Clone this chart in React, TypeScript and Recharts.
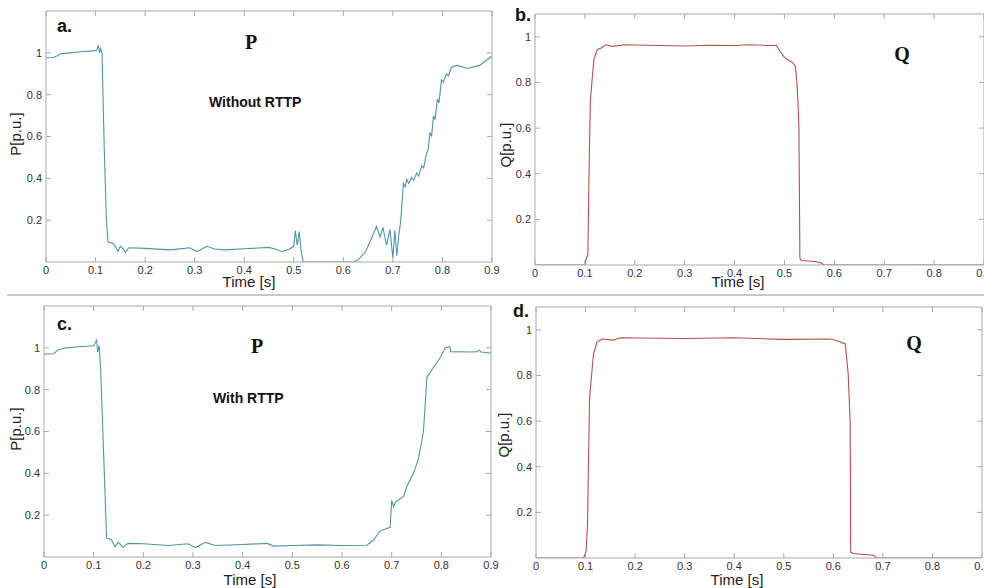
import React from "react";
import { LineChart, Line, XAxis, YAxis } from "recharts";

// shared ticks
const timeTicks = [0, 0.1, 0.2, 0.3, 0.4, 0.5, 0.6, 0.7, 0.8, 0.9];
const valueTicks = [0.2, 0.4, 0.6, 0.8, 1];

// a. P without RTTP
const pWithoutTime = [
  0, 0.015, 0.022, 0.03, 0.05, 0.07, 0.09, 0.102, 0.106, 0.108, 0.11, 0.113, 0.118, 0.122, 0.125,
  0.135, 0.14, 0.145, 0.15, 0.155, 0.16, 0.167, 0.2, 0.25, 0.28, 0.29, 0.305, 0.325, 0.34, 0.36,
  0.4, 0.45, 0.462, 0.475, 0.49, 0.5, 0.503, 0.507, 0.511, 0.515, 0.519, 0.62, 0.63, 0.645, 0.66,
  0.667, 0.674, 0.68, 0.687, 0.694, 0.7, 0.704, 0.708, 0.712, 0.716, 0.721, 0.725, 0.728, 0.732,
  0.738, 0.742, 0.748, 0.752, 0.758, 0.762, 0.768, 0.771, 0.775, 0.778, 0.782, 0.785, 0.79, 0.793,
  0.798, 0.802, 0.808, 0.812, 0.818, 0.822, 0.83, 0.85, 0.875, 0.9,
];
const pWithoutValue = [
  0.975, 0.978, 0.985, 0.995, 1.0, 1.005, 1.008, 1.012, 1.037, 1.0, 1.02, 1.0, 0.5, 0.2, 0.095,
  0.09, 0.075, 0.05, 0.075, 0.065, 0.045, 0.068, 0.065, 0.058, 0.065, 0.068, 0.05, 0.075, 0.062, 0.058,
  0.063, 0.07, 0.062, 0.05, 0.06, 0.075, 0.15, 0.08, 0.145, 0.05, 0.0, 0.0, 0.01, 0.05, 0.13,
  0.17, 0.12, 0.165, 0.08, 0.155, 0.02, 0.15, 0.03, 0.13, 0.2, 0.376, 0.36, 0.395, 0.375,
  0.405, 0.39, 0.425, 0.41, 0.46, 0.45, 0.52, 0.535, 0.62, 0.6, 0.7, 0.68, 0.78, 0.76,
  0.87, 0.86, 0.9, 0.89, 0.93, 0.935, 0.94, 0.925, 0.94, 0.985,
];

// b. Q without RTTP
const qWithoutTime = [
  0, 0.1, 0.102, 0.106, 0.109, 0.111, 0.114, 0.118, 0.125, 0.132, 0.142, 0.155, 0.18, 0.25, 0.3,
  0.35, 0.4, 0.43, 0.47, 0.484, 0.49, 0.5, 0.51, 0.517, 0.522, 0.525, 0.527, 0.529, 0.531, 0.534,
  0.56, 0.573, 0.579, 0.9,
];
const qWithoutValue = [
  0, 0, 0.02, 0.05, 0.5, 0.72, 0.8, 0.9, 0.945, 0.95, 0.965, 0.958, 0.965, 0.962, 0.96,
  0.963, 0.962, 0.965, 0.962, 0.962, 0.94, 0.91, 0.895, 0.886, 0.87, 0.8, 0.72, 0.6, 0.03, 0.02,
  0.015, 0.01, 0, 0,
];

// c. P with RTTP
const pWithTime = [
  0, 0.02, 0.028, 0.045, 0.07, 0.1, 0.106, 0.108, 0.111, 0.114, 0.12, 0.126, 0.135, 0.143, 0.149,
  0.154, 0.159, 0.169, 0.2, 0.25, 0.29, 0.305, 0.325, 0.345, 0.4, 0.45, 0.462, 0.5, 0.55, 0.6,
  0.65, 0.663, 0.677, 0.697, 0.7, 0.704, 0.707, 0.712, 0.724, 0.731, 0.744, 0.754, 0.764, 0.771,
  0.781, 0.798, 0.808, 0.817, 0.819, 0.86, 0.872, 0.876, 0.88, 0.9,
];
const pWithValue = [
  0.97, 0.972, 0.99, 1.0, 1.005, 1.01, 1.037, 0.98, 1.01, 0.9, 0.5, 0.09, 0.085, 0.049, 0.07,
  0.06, 0.045, 0.065, 0.063, 0.055, 0.063, 0.045, 0.07, 0.055, 0.06, 0.065, 0.052, 0.055, 0.058, 0.055,
  0.056, 0.08, 0.125, 0.142, 0.27, 0.24, 0.26, 0.27, 0.29, 0.34, 0.4, 0.47, 0.6, 0.86,
  0.895, 0.955, 1.0, 1.005, 0.982, 0.98, 0.982, 0.99, 0.98, 0.975,
];

// d. Q with RTTP
const qWithTime = [
  0, 0.096, 0.101, 0.104, 0.108, 0.116, 0.123, 0.133, 0.156, 0.17, 0.25, 0.3, 0.4, 0.5, 0.593,
  0.607, 0.624, 0.63, 0.632, 0.634, 0.635, 0.64, 0.681, 0.688, 0.9,
];
const qWithValue = [
  0, 0, 0.03, 0.15, 0.7, 0.894, 0.946, 0.96, 0.955, 0.965, 0.963, 0.962, 0.965, 0.958, 0.96,
  0.953, 0.938, 0.807, 0.7, 0.588, 0.026, 0.02, 0.012, 0, 0,
];

const toRows = (time: number[], value: number[]) => time.map((t, i) => ({ t, v: value[i] }));

const sans = "'Liberation Sans', Arial, sans-serif";
const serif = "'Liberation Serif', 'Times New Roman', serif";
const frame = "#a9a9a9";
const tickText = "#333";
const pColor = "#4f95aa";
const qColor = "#b5504d";

interface PanelProps {
  left: number;
  top: number;
  width: number;
  height: number;
  axisLeft: number;
  axisRight: number;
  axisTop: number;
  axisBottom: number;
  yMax: number;
  color: string;
  data: { t: number; v: number }[];
}

function Panel(props: PanelProps) {
  const blank = () => "";
  return (
    <div style={{ position: "absolute", left: props.left, top: props.top }}>
      <LineChart
        width={props.width}
        height={props.height}
        data={props.data}
        margin={{ top: 0, right: 0, bottom: 0, left: 0 }}
      >
        <XAxis
          xAxisId="bottom"
          dataKey="t"
          type="number"
          domain={[0, 0.9]}
          ticks={timeTicks}
          interval={0}
          allowDataOverflow
          height={props.axisBottom}
          tickSize={-5}
          tickMargin={9}
          tick={{ fontSize: 11, fill: tickText, fontFamily: sans }}
          axisLine={{ stroke: frame }}
          tickLine={{ stroke: frame }}
        />
        <XAxis
          xAxisId="top"
          orientation="top"
          dataKey="t"
          type="number"
          domain={[0, 0.9]}
          ticks={timeTicks}
          interval={0}
          allowDataOverflow
          height={props.axisTop}
          tickSize={-5}
          tickFormatter={blank}
          axisLine={{ stroke: frame }}
          tickLine={{ stroke: frame }}
        />
        <YAxis
          yAxisId="left"
          type="number"
          domain={[0, props.yMax]}
          ticks={valueTicks}
          interval={0}
          allowDataOverflow
          width={props.axisLeft}
          tickSize={-5}
          tickMargin={9}
          tick={{ fontSize: 11, fill: tickText, fontFamily: sans }}
          axisLine={{ stroke: frame }}
          tickLine={{ stroke: frame }}
        />
        <YAxis
          yAxisId="right"
          orientation="right"
          type="number"
          domain={[0, props.yMax]}
          ticks={valueTicks}
          interval={0}
          allowDataOverflow
          width={props.axisRight}
          tickSize={-5}
          tickFormatter={blank}
          axisLine={{ stroke: frame }}
          tickLine={{ stroke: frame }}
        />
        <Line
          xAxisId="bottom"
          yAxisId="left"
          dataKey="v"
          type="linear"
          stroke={props.color}
          strokeWidth={1.1}
          dot={false}
          isAnimationActive={false}
        />
      </LineChart>
    </div>
  );
}

export default function App() {
  return (
    <div
      style={{
        position: "absolute",
        left: 0,
        top: 0,
        width: 984,
        height: 588,
        overflow: "hidden",
        background: "#fff",
      }}
    >
      <Panel left={0} top={0} width={500} height={295} axisLeft={46} axisRight={8} axisTop={11} axisBottom={33}
        yMax={1.2} color={pColor} data={toRows(pWithoutTime, pWithoutValue)} />
      <Panel left={500} top={0} width={490} height={295} axisLeft={35} axisRight={6} axisTop={14} axisBottom={30}
        yMax={1.1} color={qColor} data={toRows(qWithoutTime, qWithoutValue)} />
      <Panel left={0} top={295} width={500} height={293} axisLeft={44} axisRight={9} axisTop={11} axisBottom={31}
        yMax={1.2} color={pColor} data={toRows(pWithTime, pWithValue)} />
      <Panel left={500} top={295} width={490} height={293} axisLeft={36} axisRight={8} axisTop={12} axisBottom={30}
        yMax={1.1} color={qColor} data={toRows(qWithTime, qWithValue)} />

      <svg width={984} height={588} style={{ position: "absolute", left: 0, top: 0, pointerEvents: "none" }}>
        <line x1={7} y1={295} x2={984} y2={295} stroke="#c8c8c8" strokeWidth={2} />

        <g fontFamily={sans} fontWeight="bold" fontSize={18} fill="#111">
          <text x={57} y={32}>a.</text>
          <text x={515} y={21}>b.</text>
          <text x={57} y={330}>c.</text>
          <text x={513} y={317}>d.</text>
        </g>

        <g fontFamily={serif} fontWeight="bold" fontSize={20} fill="#111" textAnchor="middle">
          <text x={251} y={49}>P</text>
          <text x={902} y={61}>Q</text>
          <text x={257} y={353}>P</text>
          <text x={914} y={350}>Q</text>
        </g>

        <g fontFamily={sans} fontWeight="bold" fontSize={14} fill="#111">
          <text x={209} y={107}>Without RTTP</text>
          <text x={213} y={403}>With RTTP</text>
        </g>

        <g fontFamily={sans} fontSize={15} fill="#222" textAnchor="middle">
          <text x={249} y={287}>Time [s]</text>
          <text x={738} y={287}>Time [s]</text>
          <text x={250} y={585}>Time [s]</text>
          <text x={737} y={585}>Time [s]</text>
          <text x={21} y={134} transform="rotate(-90 21 134)">P[p.u.]</text>
          <text x={511} y={145} transform="rotate(-90 511 145)">Q[p.u.]</text>
          <text x={21} y={429} transform="rotate(-90 21 429)">P[p.u.]</text>
          <text x={509} y={435} transform="rotate(-90 509 435)">Q[p.u.]</text>
        </g>
      </svg>
    </div>
  );
}
